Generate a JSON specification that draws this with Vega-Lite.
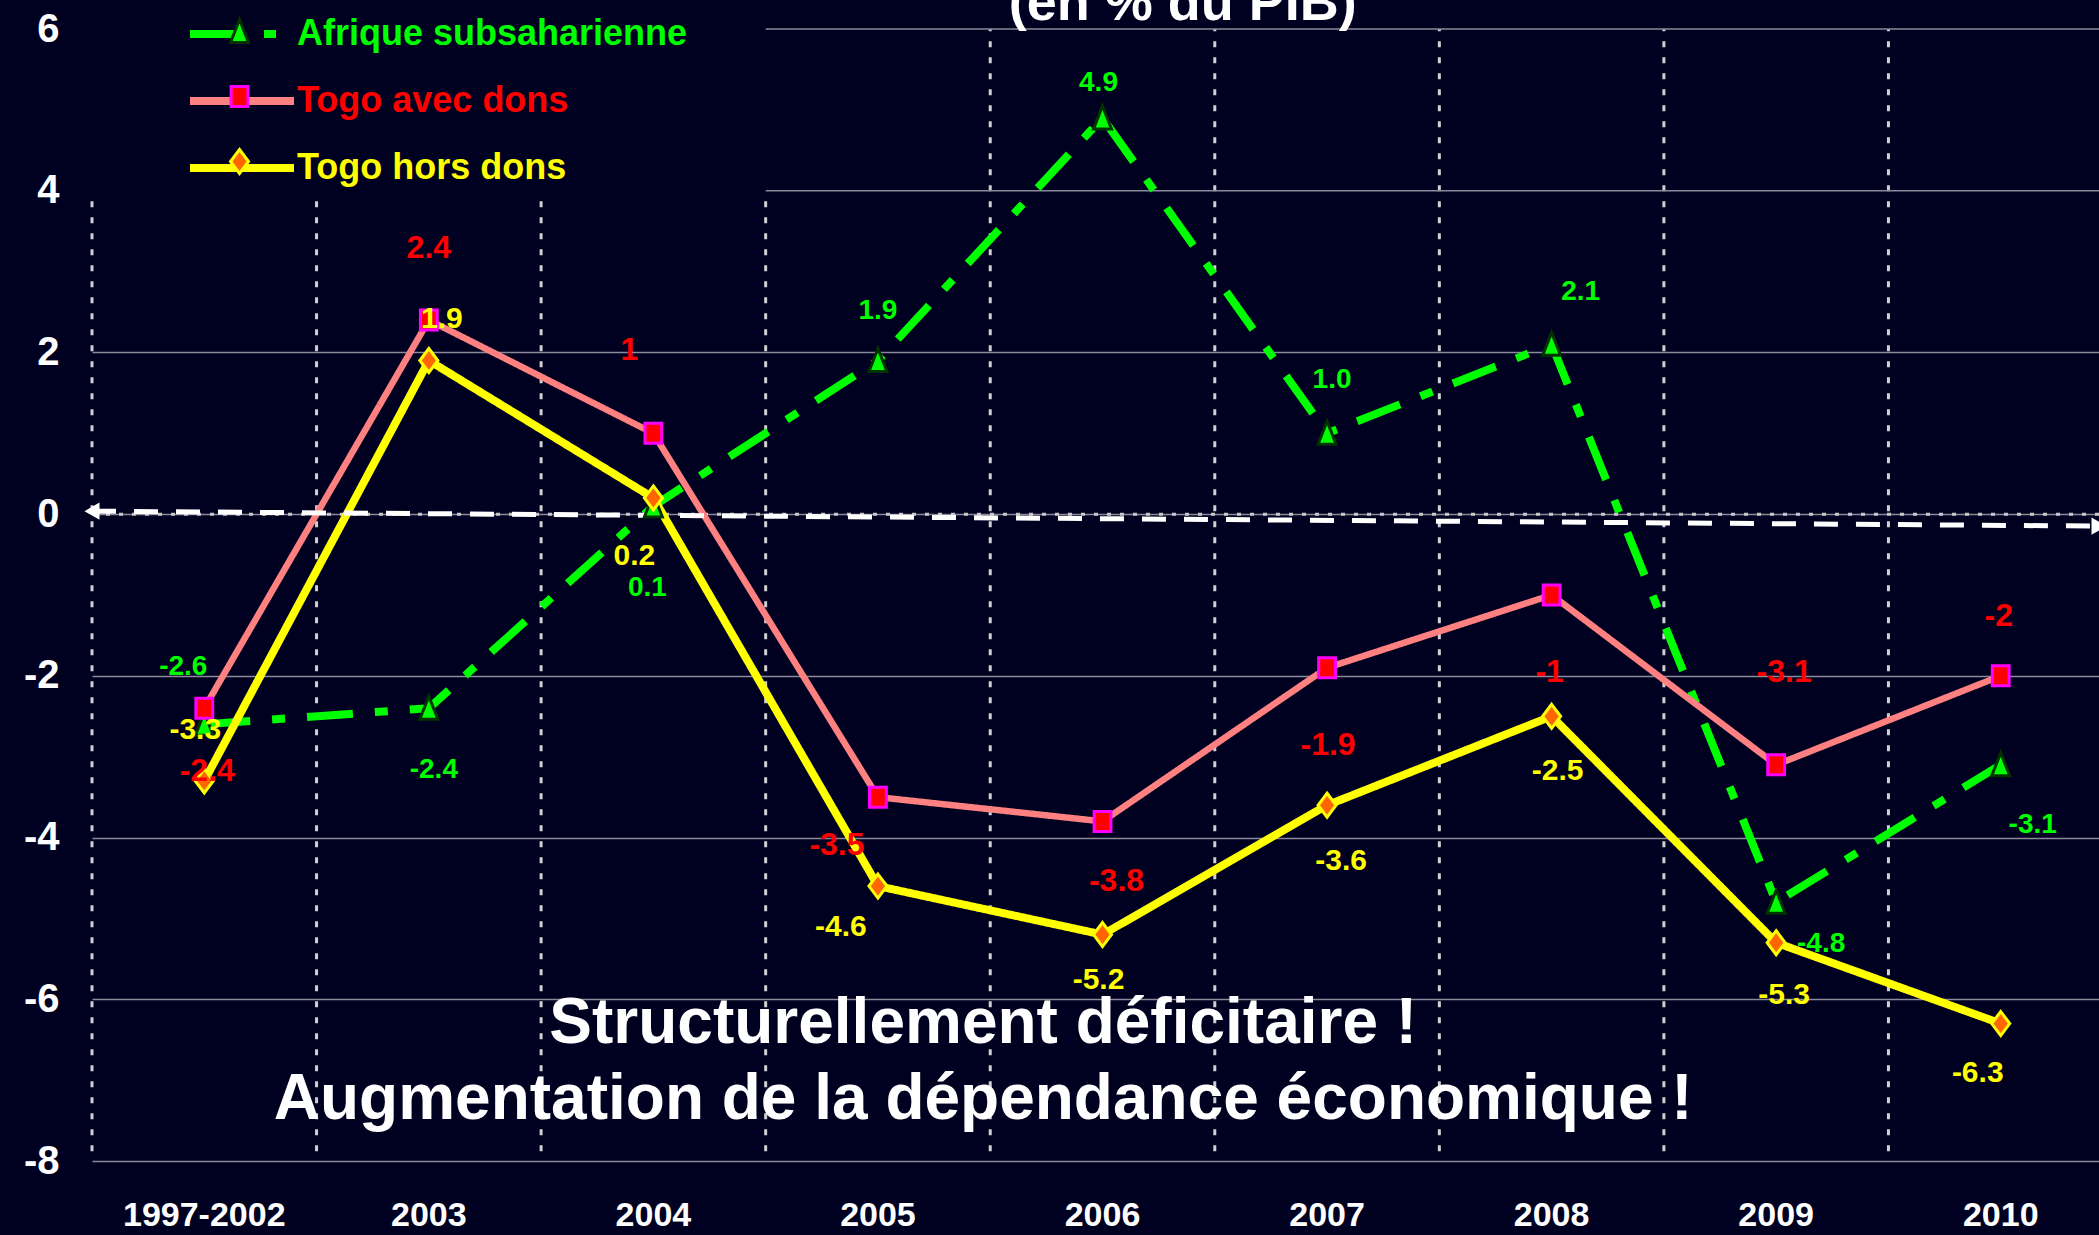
{
"$schema": "https://vega.github.io/schema/vega-lite/v6.json",
"width": 2007, "height": 1132,
"autosize": {"type": "none"},
"padding": {"left": 92, "top": 29, "right": 0, "bottom": 74},
"background": "#000020",
"data": {"values": [
{"periode": "1997-2002", "serie": "Afrique subsaharienne", "valeur": -2.6},
{"periode": "2003", "serie": "Afrique subsaharienne", "valeur": -2.4},
{"periode": "2004", "serie": "Afrique subsaharienne", "valeur": 0.1},
{"periode": "2005", "serie": "Afrique subsaharienne", "valeur": 1.9},
{"periode": "2006", "serie": "Afrique subsaharienne", "valeur": 4.9},
{"periode": "2007", "serie": "Afrique subsaharienne", "valeur": 1.0},
{"periode": "2008", "serie": "Afrique subsaharienne", "valeur": 2.1},
{"periode": "2009", "serie": "Afrique subsaharienne", "valeur": -4.8},
{"periode": "2010", "serie": "Afrique subsaharienne", "valeur": -3.1},
{"periode": "1997-2002", "serie": "Togo avec dons", "valeur": -2.4},
{"periode": "2003", "serie": "Togo avec dons", "valeur": 2.4},
{"periode": "2004", "serie": "Togo avec dons", "valeur": 1},
{"periode": "2005", "serie": "Togo avec dons", "valeur": -3.5},
{"periode": "2006", "serie": "Togo avec dons", "valeur": -3.8},
{"periode": "2007", "serie": "Togo avec dons", "valeur": -1.9},
{"periode": "2008", "serie": "Togo avec dons", "valeur": -1},
{"periode": "2009", "serie": "Togo avec dons", "valeur": -3.1},
{"periode": "2010", "serie": "Togo avec dons", "valeur": -2},
{"periode": "1997-2002", "serie": "Togo hors dons", "valeur": -3.3},
{"periode": "2003", "serie": "Togo hors dons", "valeur": 1.9},
{"periode": "2004", "serie": "Togo hors dons", "valeur": 0.2},
{"periode": "2005", "serie": "Togo hors dons", "valeur": -4.6},
{"periode": "2006", "serie": "Togo hors dons", "valeur": -5.2},
{"periode": "2007", "serie": "Togo hors dons", "valeur": -3.6},
{"periode": "2008", "serie": "Togo hors dons", "valeur": -2.5},
{"periode": "2009", "serie": "Togo hors dons", "valeur": -5.3},
{"periode": "2010", "serie": "Togo hors dons", "valeur": -6.3}
]},
"transform": [{"calculate": "datum.serie", "as": "marqueur"}],
"layer": [
{"transform": [{"filter": "datum.serie == 'Afrique subsaharienne' && indexof(['1997-2002','2003','2004','2005'], datum.periode) < 0"}],
 "mark": {"type": "rule", "color": "#d0d0d0", "strokeWidth": 3, "strokeDash": [6, 10]},
 "encoding": {"x": {"field": "periode", "type": "nominal", "bandPosition": 0}, "y": {"datum": -7.88}, "y2": {"datum": 6}}},
{"transform": [{"filter": "datum.serie == 'Afrique subsaharienne' && indexof(['1997-2002','2003','2004','2005'], datum.periode) >= 0"}],
 "mark": {"type": "rule", "color": "#d0d0d0", "strokeWidth": 3, "strokeDash": [6, 10]},
 "encoding": {"x": {"field": "periode", "type": "nominal", "bandPosition": 0}, "y": {"datum": -7.88}, "y2": {"datum": 3.88}}},
{"data": {"values": [{}]},
 "mark": {"type": "rule", "color": "#8a8a9a", "strokeWidth": 1.5},
 "encoding": {"x": {"datum": "2005", "type": "nominal", "bandPosition": 0}, "x2": {"value": "width"}, "y": {"datum": 4}}},
{"data": {"values": [{}]},
 "mark": {"type": "rule", "color": "#8a8a9a", "strokeWidth": 1.5},
 "encoding": {"x": {"datum": "2005", "type": "nominal", "bandPosition": 0}, "x2": {"value": "width"}, "y": {"datum": 6}}},
{"data": {"values": [{}]},
 "mark": {"type": "rule", "color": "#c8c8c8", "strokeWidth": 3, "strokeDash": [4, 9]},
 "encoding": {"y": {"datum": 0}}},
{"encoding": {
   "x": {"field": "periode", "type": "nominal",
     "scale": {"type": "band", "domain": ["1997-2002","2003","2004","2005","2006","2007","2008","2009","2010"], "range": [0, 2021], "paddingInner": 0, "paddingOuter": 0},
     "axis": {"title": null, "labelAngle": 0, "labelAlign": "center", "ticks": false, "domain": false, "grid": false, "labelPadding": 54, "labelBaseline": "middle", "labelLimit": 1000, "labelFontSize": 34, "labelFont": "Liberation Sans, Arial, sans-serif", "labelFontWeight": "bold", "labelColor": "#ffffff"}},
   "y": {"field": "valeur", "type": "quantitative",
     "scale": {"domain": [-8, 6], "nice": false, "zero": false},
     "axis": {"title": null, "format": "d", "values": [-8, -6, -4, -2, 0, 2, 4, 6], "ticks": false, "domain": false, "grid": true, "gridColor": "#8a8a9a", "gridWidth": 1.5, "gridOpacity": {"condition": {"test": "datum.value >= 4", "value": 0}, "value": 1}, "labelPadding": 33, "labelFontSize": 40, "labelFont": "Liberation Sans, Arial, sans-serif", "labelFontWeight": "bold", "labelColor": "#ffffff", "labelFlush": false, "labelOverlap": false, "labelLimit": 1000}}
 },
 "layer": [
  {"mark": {"type": "line", "strokeCap": "butt", "strokeJoin": "round"},
   "encoding": {
     "color": {"field": "serie", "type": "nominal",
       "scale": {"domain": ["Afrique subsaharienne", "Togo avec dons", "Togo hors dons"], "range": ["#00ff00", "#ff8080", "#ffff00"]},
       "legend": {"orient": "none", "legendX": 126, "legendY": -19, "title": null, "zindex": 1, "padding": 0, "rowPadding": 25, "symbolType": "M-2.6,0L2.6,0", "symbolSize": 1600, "symbolStrokeWidth": 8, "labelOffset": 31, "labelLimit": 1000, "labelFontSize": 36, "labelFont": "Liberation Sans, Arial, sans-serif", "labelFontWeight": "bold",
         "encode": {"symbols": {"update": {"fill": {"value": "transparent"}, "strokeWidth": {"value": 8}, "opacity": {"value": 1},
                      "stroke": {"signal": "datum.value == 'Afrique subsaharienne' ? '#00ff00' : datum.value == 'Togo avec dons' ? '#ff8080' : '#ffff00'"},
                      "strokeDash": {"signal": "datum.value == 'Afrique subsaharienne' ? [44, 30, 12, 40] : [1, 0]"}}},
                    "labels": {"update": {"fill": {"signal": "datum.value == 'Afrique subsaharienne' ? '#00ff00' : datum.value == 'Togo avec dons' ? '#ff0000' : '#ffff00'"}}}}}},
     "strokeDash": {"condition": {"test": "datum.serie == 'Afrique subsaharienne'", "value": [46, 22, 13, 22]}, "value": [1, 0]},
     "strokeWidth": {"condition": {"test": "datum.serie == 'Togo avec dons'", "value": 6.5}, "value": 8}
   }},
  {"transform": [{"filter": "datum.serie == 'Afrique subsaharienne' && datum.periode == '1997-2002'"}],
   "mark": {"type": "rule", "color": "#ffffff", "strokeWidth": 5, "strokeDash": [24, 18]},
   "encoding": {"x": {"datum": "1997-2002", "type": "nominal", "bandPosition": 0}, "x2": {"value": "width"}, "y": {"datum": 0.037}, "y2": {"datum": -0.148}}},
  {"transform": [{"filter": "datum.serie == 'Afrique subsaharienne' && datum.periode == '1997-2002'"}],
   "mark": {"type": "point", "shape": "triangle-left", "filled": true, "color": "#ffffff", "size": 300, "opacity": 1},
   "encoding": {"x": {"datum": "1997-2002", "type": "nominal", "bandPosition": 0}, "y": {"datum": 0.037}}},
  {"transform": [{"filter": "datum.serie == 'Afrique subsaharienne' && datum.periode == '1997-2002'"}],
   "mark": {"type": "point", "shape": "triangle-right", "filled": true, "color": "#ffffff", "size": 300, "opacity": 1, "dx": -9},
   "encoding": {"x": {"value": "width"}, "y": {"datum": -0.148}}},
  {"mark": {"type": "point", "filled": true, "size": 1600, "strokeWidth": 3, "opacity": 1},
   "encoding": {
     "shape": {"field": "marqueur", "type": "nominal",
       "scale": {"range": ["M0,-0.6L0.45,0.55L-0.45,0.55Z", "M-0.42,-0.5L0.42,-0.5L0.42,0.5L-0.42,0.5Z", "M0,-0.6L0.45,0L0,0.6L-0.45,0Z"]},
       "legend": {"orient": "none", "legendX": 126, "legendY": -19, "title": null, "zindex": 2, "padding": 0, "rowPadding": 25, "symbolSize": 1600, "symbolStrokeWidth": 3, "symbolOpacity": 1, "labelOffset": 31, "labelLimit": 1000, "labelFontSize": 36, "labelFont": "Liberation Sans, Arial, sans-serif", "labelFontWeight": "bold", "labelColor": "transparent", "labelExpr": "' '"}},
     "fill": {"field": "marqueur", "type": "nominal", "scale": {"range": ["#00ff00", "#ff0000", "#ff6600"]}},
     "stroke": {"field": "marqueur", "type": "nominal", "scale": {"range": ["#003300", "#ff00ff", "#ffff00"]}}
   }},
  {"transform": [{"filter": "datum.serie == 'Afrique subsaharienne' && datum.periode == '1997-2002'"}], "mark": {"type": "text", "dx": -21, "dy": -57, "fontSize": 28, "fill": "#00ff00"}, "encoding": {"text": {"field": "valeur", "type": "quantitative", "format": ".1f"}}},
  {"transform": [{"filter": "datum.serie == 'Afrique subsaharienne' && datum.periode == '2003'"}], "mark": {"type": "text", "dx": 5, "dy": 62, "fontSize": 28, "fill": "#00ff00"}, "encoding": {"text": {"field": "valeur", "type": "quantitative", "format": ".1f"}}},
  {"transform": [{"filter": "datum.serie == 'Afrique subsaharienne' && datum.periode == '2004'"}], "mark": {"type": "text", "dx": -6, "dy": 82, "fontSize": 28, "fill": "#00ff00"}, "encoding": {"text": {"field": "valeur", "type": "quantitative", "format": ".1f"}}},
  {"transform": [{"filter": "datum.serie == 'Afrique subsaharienne' && datum.periode == '2005'"}], "mark": {"type": "text", "dx": 0, "dy": -50, "fontSize": 28, "fill": "#00ff00"}, "encoding": {"text": {"field": "valeur", "type": "quantitative", "format": ".1f"}}},
  {"transform": [{"filter": "datum.serie == 'Afrique subsaharienne' && datum.periode == '2006'"}], "mark": {"type": "text", "dx": -4, "dy": -35, "fontSize": 28, "fill": "#00ff00"}, "encoding": {"text": {"field": "valeur", "type": "quantitative", "format": ".1f"}}},
  {"transform": [{"filter": "datum.serie == 'Afrique subsaharienne' && datum.periode == '2007'"}], "mark": {"type": "text", "dx": 5, "dy": -53, "fontSize": 28, "fill": "#00ff00"}, "encoding": {"text": {"field": "valeur", "type": "quantitative", "format": ".1f"}}},
  {"transform": [{"filter": "datum.serie == 'Afrique subsaharienne' && datum.periode == '2008'"}], "mark": {"type": "text", "dx": 29, "dy": -52, "fontSize": 28, "fill": "#00ff00"}, "encoding": {"text": {"field": "valeur", "type": "quantitative", "format": ".1f"}}},
  {"transform": [{"filter": "datum.serie == 'Afrique subsaharienne' && datum.periode == '2009'"}], "mark": {"type": "text", "dx": 45, "dy": 42, "fontSize": 28, "fill": "#00ff00"}, "encoding": {"text": {"field": "valeur", "type": "quantitative", "format": ".1f"}}},
  {"transform": [{"filter": "datum.serie == 'Afrique subsaharienne' && datum.periode == '2010'"}], "mark": {"type": "text", "dx": 32, "dy": 60, "fontSize": 28, "fill": "#00ff00"}, "encoding": {"text": {"field": "valeur", "type": "quantitative", "format": ".1f"}}},
  {"transform": [{"filter": "datum.serie == 'Togo avec dons' && datum.periode == '1997-2002'"}], "mark": {"type": "text", "dx": 3, "dy": 63, "fontSize": 32, "fill": "#ff0000"}, "encoding": {"text": {"field": "valeur", "type": "quantitative", "format": ".1~f"}}},
  {"transform": [{"filter": "datum.serie == 'Togo avec dons' && datum.periode == '2003'"}], "mark": {"type": "text", "dx": 0, "dy": -72, "fontSize": 32, "fill": "#ff0000"}, "encoding": {"text": {"field": "valeur", "type": "quantitative", "format": ".1~f"}}},
  {"transform": [{"filter": "datum.serie == 'Togo avec dons' && datum.periode == '2004'"}], "mark": {"type": "text", "dx": -24, "dy": -83, "fontSize": 32, "fill": "#ff0000"}, "encoding": {"text": {"field": "valeur", "type": "quantitative", "format": ".1~f"}}},
  {"transform": [{"filter": "datum.serie == 'Togo avec dons' && datum.periode == '2005'"}], "mark": {"type": "text", "dx": -41, "dy": 48, "fontSize": 32, "fill": "#ff0000"}, "encoding": {"text": {"field": "valeur", "type": "quantitative", "format": ".1~f"}}},
  {"transform": [{"filter": "datum.serie == 'Togo avec dons' && datum.periode == '2006'"}], "mark": {"type": "text", "dx": 14, "dy": 60, "fontSize": 32, "fill": "#ff0000"}, "encoding": {"text": {"field": "valeur", "type": "quantitative", "format": ".1~f"}}},
  {"transform": [{"filter": "datum.serie == 'Togo avec dons' && datum.periode == '2007'"}], "mark": {"type": "text", "dx": 1, "dy": 77, "fontSize": 32, "fill": "#ff0000"}, "encoding": {"text": {"field": "valeur", "type": "quantitative", "format": ".1~f"}}},
  {"transform": [{"filter": "datum.serie == 'Togo avec dons' && datum.periode == '2008'"}], "mark": {"type": "text", "dx": -2, "dy": 77, "fontSize": 32, "fill": "#ff0000"}, "encoding": {"text": {"field": "valeur", "type": "quantitative", "format": ".1~f"}}},
  {"transform": [{"filter": "datum.serie == 'Togo avec dons' && datum.periode == '2009'"}], "mark": {"type": "text", "dx": 8, "dy": -93, "fontSize": 32, "fill": "#ff0000"}, "encoding": {"text": {"field": "valeur", "type": "quantitative", "format": ".1~f"}}},
  {"transform": [{"filter": "datum.serie == 'Togo avec dons' && datum.periode == '2010'"}], "mark": {"type": "text", "dx": -2, "dy": -60, "fontSize": 32, "fill": "#ff0000"}, "encoding": {"text": {"field": "valeur", "type": "quantitative", "format": ".1~f"}}},
  {"transform": [{"filter": "datum.serie == 'Togo hors dons' && datum.periode == '1997-2002'"}], "mark": {"type": "text", "dx": -9, "dy": -51, "fontSize": 30, "fill": "#ffff00"}, "encoding": {"text": {"field": "valeur", "type": "quantitative", "format": ".1f"}}},
  {"transform": [{"filter": "datum.serie == 'Togo hors dons' && datum.periode == '2003'"}], "mark": {"type": "text", "dx": 13, "dy": -42, "fontSize": 30, "fill": "#ffff00"}, "encoding": {"text": {"field": "valeur", "type": "quantitative", "format": ".1f"}}},
  {"transform": [{"filter": "datum.serie == 'Togo hors dons' && datum.periode == '2004'"}], "mark": {"type": "text", "dx": -19, "dy": 58, "fontSize": 30, "fill": "#ffff00"}, "encoding": {"text": {"field": "valeur", "type": "quantitative", "format": ".1f"}}},
  {"transform": [{"filter": "datum.serie == 'Togo hors dons' && datum.periode == '2005'"}], "mark": {"type": "text", "dx": -37, "dy": 41, "fontSize": 30, "fill": "#ffff00"}, "encoding": {"text": {"field": "valeur", "type": "quantitative", "format": ".1f"}}},
  {"transform": [{"filter": "datum.serie == 'Togo hors dons' && datum.periode == '2006'"}], "mark": {"type": "text", "dx": -4, "dy": 45, "fontSize": 30, "fill": "#ffff00"}, "encoding": {"text": {"field": "valeur", "type": "quantitative", "format": ".1f"}}},
  {"transform": [{"filter": "datum.serie == 'Togo hors dons' && datum.periode == '2007'"}], "mark": {"type": "text", "dx": 14, "dy": 56, "fontSize": 30, "fill": "#ffff00"}, "encoding": {"text": {"field": "valeur", "type": "quantitative", "format": ".1f"}}},
  {"transform": [{"filter": "datum.serie == 'Togo hors dons' && datum.periode == '2008'"}], "mark": {"type": "text", "dx": 6, "dy": 55, "fontSize": 30, "fill": "#ffff00"}, "encoding": {"text": {"field": "valeur", "type": "quantitative", "format": ".1f"}}},
  {"transform": [{"filter": "datum.serie == 'Togo hors dons' && datum.periode == '2009'"}], "mark": {"type": "text", "dx": 8, "dy": 52, "fontSize": 30, "fill": "#ffff00"}, "encoding": {"text": {"field": "valeur", "type": "quantitative", "format": ".1f"}}},
  {"transform": [{"filter": "datum.serie == 'Togo hors dons' && datum.periode == '2010'"}], "mark": {"type": "text", "dx": -23, "dy": 49, "fontSize": 30, "fill": "#ffff00"}, "encoding": {"text": {"field": "valeur", "type": "quantitative", "format": ".1f"}}}
 ]},
{"data": {"values": [{}]},
 "mark": {"type": "text", "align": "center", "baseline": "alphabetic", "dx": -7, "lineHeight": 76, "fontSize": 64, "fontWeight": "bold", "font": "Liberation Sans, Arial, sans-serif", "fill": "#ffffff"},
 "encoding": {"x": {"datum": "2006", "type": "nominal", "bandPosition": 0}, "y": {"datum": -6.54}, "text": {"value": ["Structurellement déficitaire !", "Augmentation de la dépendance économique !"]}}},
{"data": {"values": [{}]},
 "mark": {"type": "text", "align": "center", "baseline": "alphabetic", "dx": -32, "fontSize": 54, "fontWeight": "bold", "font": "Liberation Sans, Arial, sans-serif", "fill": "#ffffff"},
 "encoding": {"x": {"datum": "2007", "type": "nominal", "bandPosition": 0}, "y": {"datum": 6.111}, "text": {"value": "(en % du PIB)"}}}
],
"config": {
  "view": {"stroke": null},
  "locale": {"number": {"decimal": ".", "thousands": ",", "grouping": [3], "currency": ["", ""], "minus": "-"}},
  "text": {"font": "Liberation Sans, Arial, sans-serif", "fontWeight": "bold", "align": "center", "baseline": "middle"}
}
}
